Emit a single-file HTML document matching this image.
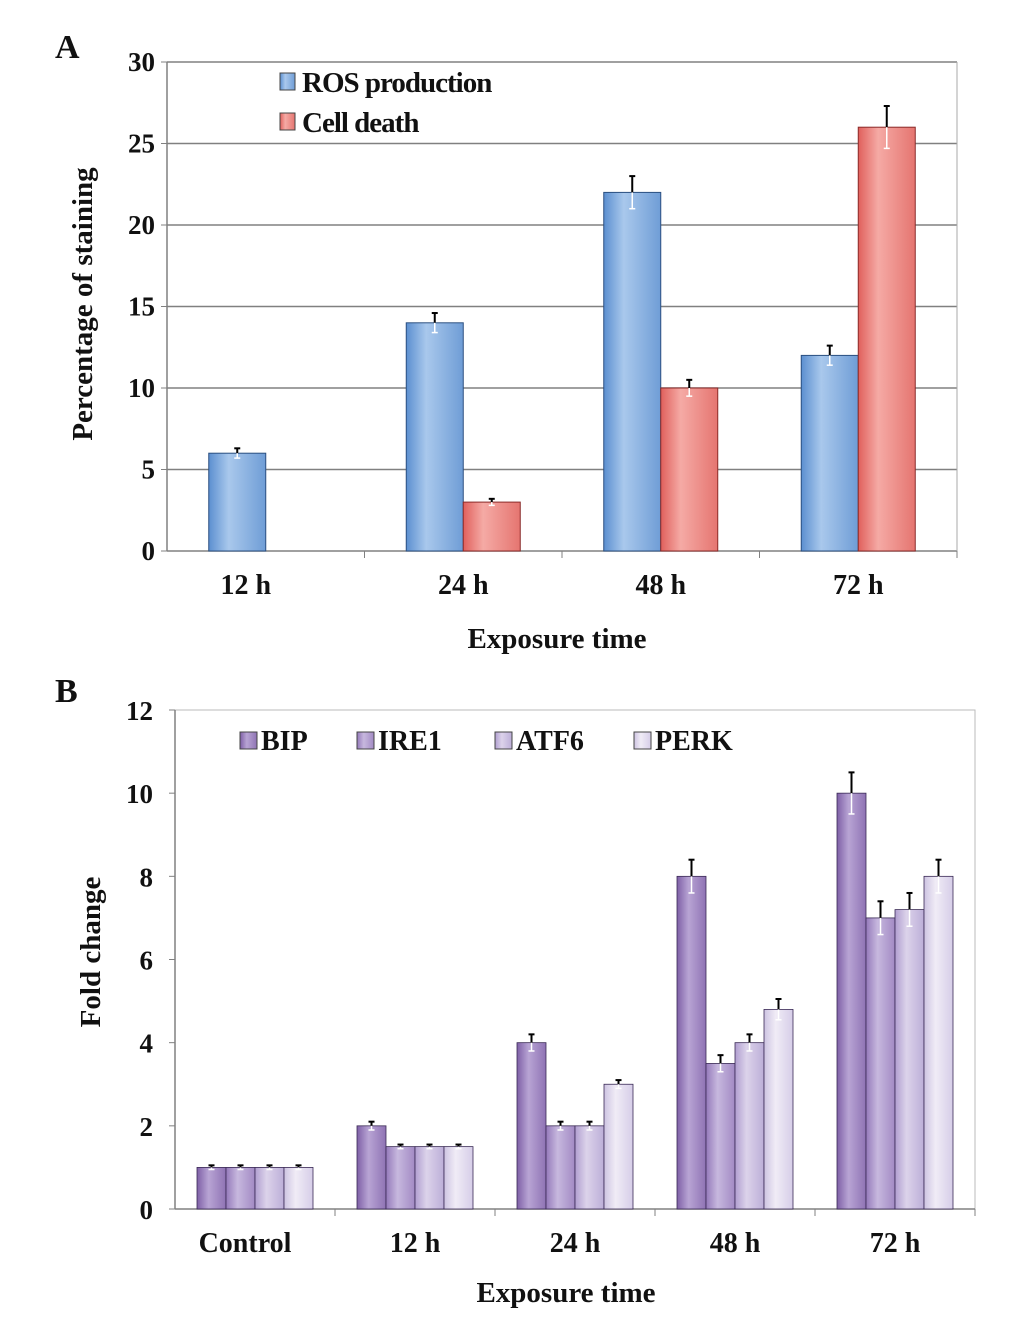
<!DOCTYPE html>
<html><head><meta charset="utf-8"><style>
body{margin:0;background:#fff;}
svg text{font-family:"Liberation Serif",serif;font-weight:bold;fill:#111;}
</style></head><body>
<svg id="s" width="1033" height="1319" viewBox="0 0 1033 1319" xmlns="http://www.w3.org/2000/svg">
<defs>
<linearGradient id="gBlue" x1="0" x2="1" y1="0" y2="0"><stop offset="0" stop-color="#5b8fd0"/><stop offset="0.35" stop-color="#a9c8ec"/><stop offset="1" stop-color="#6f9dd6"/></linearGradient>
<linearGradient id="gRed" x1="0" x2="1" y1="0" y2="0"><stop offset="0" stop-color="#e0605c"/><stop offset="0.35" stop-color="#f5aaa5"/><stop offset="1" stop-color="#e57570"/></linearGradient>
<linearGradient id="gP0" x1="0" x2="1"><stop offset="0" stop-color="#7e5fa6"/><stop offset="0.4" stop-color="#b8a4d4"/><stop offset="1" stop-color="#8f73b4"/></linearGradient>
<linearGradient id="gP1" x1="0" x2="1"><stop offset="0" stop-color="#9479ba"/><stop offset="0.4" stop-color="#c7b8de"/><stop offset="1" stop-color="#a28ac4"/></linearGradient>
<linearGradient id="gP2" x1="0" x2="1"><stop offset="0" stop-color="#b09ed0"/><stop offset="0.4" stop-color="#dcd3ea"/><stop offset="1" stop-color="#bcaed8"/></linearGradient>
<linearGradient id="gP3" x1="0" x2="1"><stop offset="0" stop-color="#cdc3e2"/><stop offset="0.4" stop-color="#f0ecf6"/><stop offset="1" stop-color="#d6cde8"/></linearGradient>
</defs>
<text x="55" y="58" font-size="34">A</text>
<text x="55" y="702" font-size="34">B</text>
<g id="A"></g><g id="B"></g>
</svg>
<script>
const catsA=["12 h","24 h","48 h","72 h"];
const rosVals=[6,14,22,12];
const rosErr=[0.3,0.6,1,0.6];
const deathVals=[0,3,10,26];
const deathErr=[0,0.2,0.5,1.3];
const ticksA=[0,5,10,15,20,25,30];
const catsB=["Control","12 h","24 h","48 h","72 h"];
const bipVals=[1,2,4,8,10];
const ire1Vals=[1,1.5,2,3.5,7];
const atf6Vals=[1,1.5,2,4,7.2];
const perkVals=[1,1.5,3,4.8,8];
const errB=[[0.05,0.1,0.2,0.4,0.5],[0.05,0.05,0.1,0.2,0.4],[0.05,0.05,0.1,0.2,0.4],[0.05,0.05,0.1,0.25,0.4]];
const ticksB=[0,2,4,6,8,10,12];
const NS="http://www.w3.org/2000/svg";
function mk(p,t,a){const e=document.createElementNS(NS,t);for(const k in a)e.setAttribute(k,a[k]);p.appendChild(e);return e;}
function err(g,x,y,e,sc){if(e<=0)return;const h=e*sc;
 mk(g,"line",{x1:x,x2:x,y1:y-h,y2:y,stroke:"#000","stroke-width":2});
 mk(g,"line",{x1:x-3,x2:x+3,y1:y-h,y2:y-h,stroke:"#000","stroke-width":2});
 mk(g,"line",{x1:x,x2:x,y1:y,y2:y+h,stroke:"#fff","stroke-width":1.5});
 mk(g,"line",{x1:x-3,x2:x+3,y1:y+h,y2:y+h,stroke:"#fff","stroke-width":1.5});}
// Chart A
(function(){
 const g=document.getElementById("A");
 const L=167,R=957,T=62,Bm=551,max=30;
 const y=v=>Bm-(v/max)*(Bm-T);const sc=(Bm-T)/max;
 const cw=(R-L)/catsA.length,bw=57;
 ticksA.forEach(t=>{
  const l=mk(g,"line",{x1:L,x2:R,y1:y(t),y2:y(t),stroke:"#808080","stroke-width":1.5});
  
  
  mk(g,"line",{x1:L-6,x2:L,y1:y(t),y2:y(t),stroke:"#808080"});
  const tx=mk(g,"text",{x:L-12,y:y(t)+9,"font-size":27,"text-anchor":"end"});tx.textContent=t;
  
  
 });
 mk(g,"line",{x1:L,x2:L,y1:T,y2:Bm,stroke:"#808080","stroke-width":1.5});
 mk(g,"line",{x1:R,x2:R,y1:T,y2:Bm,stroke:"#aaa","stroke-width":1});
 catsA.forEach((c,i)=>{
  const cx=L+cw*(i+0.5);
  mk(g,"line",{x1:L+cw*(i+1),x2:L+cw*(i+1),y1:Bm,y2:Bm+7,stroke:"#808080"});
  const r1=mk(g,"rect",{x:cx-bw,y:y(rosVals[i]),width:bw,height:Bm-y(rosVals[i]),fill:"url(#gBlue)",stroke:"#2a4f80","stroke-width":1});
  
  
  err(g,cx-bw/2,y(rosVals[i]),rosErr[i],sc);
  if(deathVals[i]>0){
  const r2=mk(g,"rect",{x:cx,y:y(deathVals[i]),width:bw,height:Bm-y(deathVals[i]),fill:"url(#gRed)",stroke:"#8a2a28","stroke-width":1});
  
  
  err(g,cx+bw/2,y(deathVals[i]),deathErr[i],sc);}
  const tx=mk(g,"text",{x:i==0?cx-20:cx,y:594,"font-size":28,"text-anchor":"middle"});tx.textContent=c;
  
  
 });
 let t=mk(g,"text",{x:557,y:648,"font-size":29,"text-anchor":"middle"});t.textContent="Exposure time";
 
 t=mk(g,"text",{x:0,y:0,"font-size":29,"text-anchor":"middle",transform:"translate(92,304) rotate(-90)"});t.textContent="Percentage of staining";
 
 [["ROS production","url(#gBlue)",82],["Cell death","url(#gRed)",122]].forEach(([n,f,yy])=>{
  const r=mk(g,"rect",{x:280,y:yy-9,width:15,height:17,fill:f,stroke:"#444"});
  
  const tx=mk(g,"text",{x:302,y:yy+10,"font-size":29,"letter-spacing":"-1"});tx.textContent=n;
  
 });
})();
// Chart B
(function(){
 const g=document.getElementById("B");
 const L=175,R=975,T=710,Bm=1209,max=12;
 const y=v=>Bm-(v/max)*(Bm-T);const sc=(Bm-T)/max;
 const cw=(R-L)/catsB.length,bw=29;
 const series=[bipVals,ire1Vals,atf6Vals,perkVals];
 mk(g,"rect",{x:L,y:T,width:R-L,height:Bm-T,fill:"none",stroke:"#bbb"});
 mk(g,"line",{x1:L,x2:L,y1:T,y2:Bm,stroke:"#808080","stroke-width":1.5});
 mk(g,"line",{x1:L,x2:R,y1:Bm,y2:Bm,stroke:"#808080","stroke-width":1.5});
 ticksB.forEach(t=>{
  mk(g,"line",{x1:L-6,x2:L,y1:y(t),y2:y(t),stroke:"#808080"});
  const tx=mk(g,"text",{x:L-22,y:y(t)+10,"font-size":27,"text-anchor":"end"});tx.textContent=t;
  
  
 });
 catsB.forEach((c,i)=>{
  const cx=L+cw*(i+0.5);
  mk(g,"line",{x1:L+cw*(i+1),x2:L+cw*(i+1),y1:Bm,y2:Bm+7,stroke:"#808080"});
  series.forEach((s,k)=>{
   const x=cx-2*bw+k*bw;
   const r=mk(g,"rect",{x:x,y:y(s[i]),width:bw,height:Bm-y(s[i]),fill:"url(#gP"+k+")",stroke:"#3a2a55","stroke-width":0.8});
   
   
   err(g,x+bw/2,y(s[i]),errB[k][i],sc);
  });
  const tx=mk(g,"text",{x:i==0?cx-10:cx,y:1252,"font-size":28,"text-anchor":"middle"});tx.textContent=c;
  
  
 });
 let t=mk(g,"text",{x:566,y:1302,"font-size":29,"text-anchor":"middle"});t.textContent="Exposure time";
 
 t=mk(g,"text",{x:0,y:0,"font-size":29,"text-anchor":"middle",transform:"translate(100,952) rotate(-90)"});t.textContent="Fold change";
 
 [["BIP",240],["IRE1",357],["ATF6",495],["PERK",634]].forEach(([n,x],k)=>{
  const r=mk(g,"rect",{x:x,y:732,width:17,height:17,fill:"url(#gP"+k+")",stroke:"#444"});
  
  const tx=mk(g,"text",{x:x+21,y:750,"font-size":28}); tx.textContent=n;
  
 });
})();
</script>
</body></html>
